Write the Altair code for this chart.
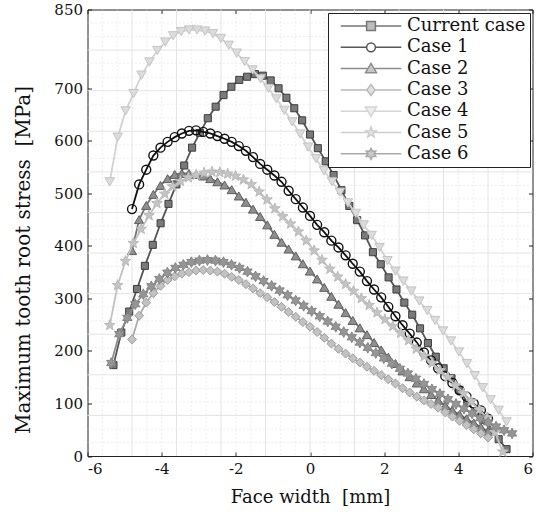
import math
import altair as alt
import numpy as np
import pandas as pd

# ---------------- data ----------------
series = ["Current case", "Case 1", "Case 2", "Case 3", "Case 4", "Case 5", "Case 6"]
x_start = [-5.3, -4.8, -4.8, -4.8, -5.4, -5.4, -5.36]
x_end = [5.3, 4.8, 4.8, 4.8, 5.3, 5.2, 5.45]

current_case = [173, 235, 275, 318, 362, 402, 443, 480, 517, 553, 587, 615, 643, 665, 687, 703, 716,
                722, 727, 724, 715, 700, 682, 662, 639, 612, 586, 561, 535, 506, 476, 449, 420, 388,
                365, 340, 317, 292, 269, 243, 215, 189, 167, 148, 126, 101, 84, 69, 50, 32, 13]
case_1 = [470, 517, 545, 572, 587, 598, 607, 614, 619, 620, 617, 614, 609, 604, 598, 590, 581,
          569, 556, 545, 534, 522, 505, 489, 473, 457, 440, 426, 410, 397, 382, 366, 351, 333,
          317, 302, 284, 266, 249, 233, 216, 197, 182, 167, 152, 139, 125, 113, 100, 87, 71]
case_2 = [391, 450, 477, 498, 515, 528, 536, 538, 538, 536, 533, 528, 522, 516, 507, 495, 483,
          470, 456, 440, 422, 407, 394, 381, 366, 352, 337, 321, 304, 289, 273, 258, 244, 231,
          216, 202, 188, 176, 162, 151, 139, 128, 117, 106, 96, 87, 79, 71, 63, 55, 47]
case_3 = [222, 267, 292, 310, 324, 335, 342, 347, 350, 353, 354, 353, 351, 347, 341, 335, 327,
          319, 310, 302, 293, 284, 274, 265, 255, 246, 236, 225, 214, 204, 195, 186, 178, 170,
          162, 154, 146, 138, 129, 121, 113, 106, 99, 92, 83, 75, 67, 59, 51, 43, 35]
case_4 = [522, 607, 657, 690, 725, 750, 772, 788, 800, 808, 811, 811, 809, 804, 795, 782, 767,
          751, 735, 718, 700, 680, 658, 636, 613, 588, 566, 543, 522, 502, 482, 462, 440, 420,
          397, 372, 352, 333, 314, 295, 277, 258, 238, 219, 198, 176, 153, 130, 107, 87, 65]
case_5 = [249, 325, 371, 405, 432, 458, 481, 499, 513, 523, 530, 535, 539, 541, 540, 537, 533,
          526, 517, 503, 488, 471, 456, 442, 427, 410, 391, 373, 356, 341, 327, 314, 300, 287,
          273, 260, 247, 234, 220, 204, 190, 177, 163, 150, 134, 119, 104, 88, 73, 45, 8]
case_6 = [177, 232, 263, 289, 308, 323, 337, 349, 358, 364, 369, 372, 373, 372, 369, 364, 358,
          351, 342, 333, 324, 315, 306, 296, 286, 276, 266, 256, 246, 236, 226, 216, 206, 196,
          186, 176, 166, 157, 147, 137, 127, 118, 108, 99, 90, 81, 72, 64, 56, 49, 43]

values = [current_case, case_1, case_2, case_3, case_4, case_5, case_6]

x_ticks = [-6, -4, -2, 0, 2, 4, 6]
y_ticks = [0, 100, 200, 300, 400, 500, 600, 700, 850]

rows = []
for name, xs, xe, ys in zip(series, x_start, x_end, values):
    xg = np.linspace(xs, xe, len(ys))
    for i, (xv, yv) in enumerate(zip(xg, ys)):
        rows.append({"series": name, "x": float(xv), "y": yv, "i": i})
df = pd.DataFrame(rows)

# grid positions (background style of the original plot)
gx_major = [-6 + 1.2 * k for k in range(1, 10)]
gy_major = [850 / 11 * k for k in range(1, 11)]
gx_minor = [-6 + 0.4 * k for k in range(1, 30) if k % 3]
gy_minor = [850 / 33 * k for k in range(1, 33) if k % 3]

# ---------------- styles ----------------
FONT = "DejaVu Serif"
line_colors = ["#555555", "#111111", "#747474", "#ababab", "#d2d2d2", "#c2c2c2", "#8e8e8e"]
marker_strokes = ["#3d3d3d", "#111111", "#5e5e5e", "#9c9c9c", "#c4c4c4", "#bababa", "#858585"]
marker_fills = ["#7a7a7a", "transparent", "#8f8f8f", "#c2c2c2", "#dcdcdc", "#c4c4c4", "#959595"]
legend_fills = ["#7a7a7a", "white", "#8f8f8f", "#c2c2c2", "#dcdcdc", "#c4c4c4", "#959595"]
marker_sizes = [50, 80, 85, 80, 90, 125, 115]
marker_sw = [1, 1.4, 1, 1, 1, 1, 1]


def star(n, r_in, r_out=1.0):
    pts = []
    for k in range(2 * n):
        r = r_out if k % 2 == 0 else r_in
        a = -math.pi / 2 + k * math.pi / n
        pts.append((r * math.cos(a), r * math.sin(a)))
    return "M" + "L".join(f"{px:.3f},{py:.3f}" for px, py in pts) + "Z"


marker_shapes = ["square", "circle", "triangle-up", "diamond", "triangle-down", star(5, 0.42), star(6, 0.55)]


def with_line(gap, path):
    return f"M-5.5,0L-{gap},0M{gap},0L5.5,0" + path


legend_shapes = [
    with_line(0.8, "M-0.8,-0.8L0.8,-0.8L0.8,0.8L-0.8,0.8Z"),
    with_line(0.8, "M0.8,0A0.8,0.8,0,1,1,-0.8,0A0.8,0.8,0,1,1,0.8,0Z"),
    with_line(0.56, "M0,-0.95L1,0.75L-1,0.75Z"),
    with_line(0.75, "M0,-1L0.75,0L0,1L-0.75,0Z"),
    with_line(0.56, "M0,0.95L1,-0.75L-1,-0.75Z"),
    with_line(0.5, star(5, 0.42)),
    with_line(0.55, star(6, 0.55)),
]

xscale = alt.Scale(domain=[-6, 6], nice=False, zero=False)
yscale = alt.Scale(domain=[0, 850], nice=False, zero=False)


def tick_axis(orient):
    return alt.Axis(orient=orient, values=x_ticks if orient in ("top", "bottom") else y_ticks,
                    labels=False, ticks=True, tickSize=4, tickColor="#222", tickWidth=1,
                    domain=False, grid=False, offset=-4, title=None)


label_x_axis = alt.Axis(orient="bottom", values=x_ticks, ticks=False, domain=False, grid=False,
                        labelPadding=5, labelExpr="'' + datum.value",
                        title="Face width\u00a0 [mm]", titlePadding=12)
label_y_axis = alt.Axis(orient="left", values=y_ticks, ticks=False, domain=False, grid=False,
                        labelPadding=5, labelExpr="'' + datum.value",
                        title="Maximum tooth root stress\u00a0 [MPa]", titleFontSize=20,
                        titleX=-64, titleY=250, titleAngle=270,
                        titleAlign="center", titleBaseline="middle")

# ---------------- layers ----------------
grid_major_x = alt.Chart(pd.DataFrame({"gx": gx_major})).mark_rule(
    color="#e4e4e4", strokeWidth=1).encode(x=alt.X("gx:Q", scale=xscale, axis=None))
grid_major_y = alt.Chart(pd.DataFrame({"gy": gy_major})).mark_rule(
    color="#e4e4e4", strokeWidth=1).encode(y=alt.Y("gy:Q", scale=yscale, axis=None))
grid_minor_x = alt.Chart(pd.DataFrame({"gx": gx_minor})).mark_rule(
    color="#d4d4d4", strokeWidth=0.8, strokeDash=[1, 3]).encode(x=alt.X("gx:Q", scale=xscale, axis=None))
grid_minor_y = alt.Chart(pd.DataFrame({"gy": gy_minor})).mark_rule(
    color="#d4d4d4", strokeWidth=0.8, strokeDash=[1, 3]).encode(y=alt.Y("gy:Q", scale=yscale, axis=None))

series_layers = []
for k, name in enumerate(series):
    if k == 0:
        xa, ya = label_x_axis, label_y_axis
    elif k == 1:
        xa, ya = tick_axis("bottom"), tick_axis("left")
    else:
        xa, ya = None, None
    series_layers.append(
        alt.Chart(df).transform_filter(alt.datum.series == name).mark_line(
            color=line_colors[k], strokeWidth=1.8,
            point=alt.OverlayMarkDef(shape=marker_shapes[k], filled=True, opacity=1,
                                     size=marker_sizes[k], fill=marker_fills[k],
                                     stroke=marker_strokes[k], strokeWidth=marker_sw[k]),
        ).encode(
            x=alt.X("x:Q", scale=xscale, axis=xa),
            y=alt.Y("y:Q", scale=yscale, axis=ya),
            order="i:Q",
        )
    )

leg = alt.Legend(title=None, orient="none", legendX=240.5, legendY=3.5,
                 symbolSize=121, symbolStrokeWidth=1.5,
                 labelFont=FONT, labelFontSize=18, labelColor="#111", labelLimit=400,
                 padding=4, rowPadding=3.3, symbolOffset=30, labelOffset=27,
                 strokeColor="#222", fillColor="white", cornerRadius=0)

# legend-only layer: no rows pass the filter, the legend comes from the scales
legend_layer = alt.Chart(df).transform_filter("datum.y > 100000").mark_point(filled=True).encode(
    x=alt.X("x:Q", scale=xscale, axis=tick_axis("top")),
    y=alt.Y("y:Q", scale=yscale, axis=tick_axis("right")),
    shape=alt.Shape("series:N", scale=alt.Scale(domain=series, range=legend_shapes), legend=leg),
    stroke=alt.Stroke("series:N", scale=alt.Scale(domain=series, range=marker_strokes), legend=leg),
    fill=alt.Fill("series:N", scale=alt.Scale(domain=series, range=legend_fills), legend=leg),
)

chart = alt.layer(
    grid_minor_x, grid_minor_y, grid_major_x, grid_major_y, *series_layers, legend_layer
).resolve_axis(x="independent", y="independent").properties(
    width=445, height=446.5,
    autosize=alt.AutoSizeParams(type="none"),
    padding={"left": 87.5, "top": 9.5, "right": 6.5, "bottom": 65},
    background="white",
).configure_view(stroke="#222", strokeWidth=1).configure_axis(
    labelFont=FONT, labelFontSize=15, labelColor="#111",
    titleFont=FONT, titleFontSize=18, titleFontWeight="normal", titleColor="#111",
)

chart.save("out.html", embed_options={"renderer": "svg", "actions": False})
